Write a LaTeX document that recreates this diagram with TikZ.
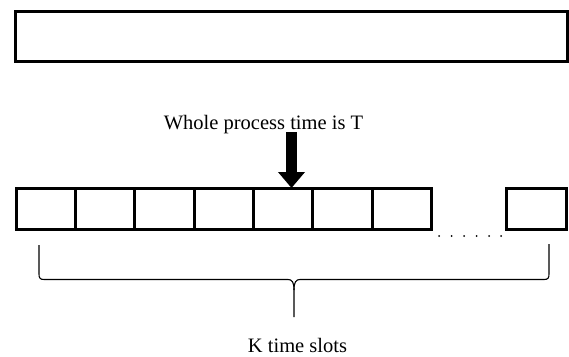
\documentclass[tikz,border=0pt]{standalone}
\usepackage{fontspec}
\setmainfont{Liberation Serif}
\usetikzlibrary{arrows.meta,calc}
\begin{document}
\begin{tikzpicture}[x=1pt,y=1pt,
  slotbox/.style={draw,line width=3pt,minimum width=59.3pt,minimum height=41pt,inner sep=0pt,outer sep=0pt},
  bigbox/.style={draw,line width=3pt,minimum width=552pt,minimum height=50pt,inner sep=0pt},
  lbl/.style={font=\fontsize{20.5}{24}\selectfont,inner sep=0pt,anchor=base},
  bracepath/.style={line width=1.1pt},
  dotmark/.style={fill,circle,inner sep=0pt,minimum size=2pt}]
\useasboundingbox (0,0) rectangle (569,-356);
\node[bigbox] (top) at (291,-36) {};
\foreach \i in {1,...,7}{
  \node[slotbox] (s\i) at ({16.3+59.3*(\i-0.5)},-208.5) {};
}
\node[slotbox] (sK) at (536.5,-208.5) {};
\foreach \x [count=\j] in {439,451.5,464,476.5,489,501}{
  \node[dotmark] (d\j) at (\x,-236) {};
}
\node[lbl] (title) at (263.5,-129.5) {Whole process time is T};
\coordinate (a) at (291.5,-132);
\draw[line width=11pt,-{Triangle[width=26pt,length=16pt]}] (a) -- (a |- s5.north);
\coordinate (bl) at (39,-245);
\coordinate (br) at (549,-244);
\coordinate (bm) at (294,-279.5);
\coordinate (bt) at (294,-317);
\draw[bracepath] (bl) -- (39,-274) .. controls (39,-278) and (40,-279.5) .. (44,-279.5)
  -- (288,-279.5) .. controls (292,-279.5) and (294,-282) .. (294,-290) -- (bt);
\draw[bracepath] (br) -- (549,-274) .. controls (549,-278) and (548,-279.5) .. (544,-279.5)
  -- (300,-279.5) .. controls (296,-279.5) and (294,-282) .. (294,-290);
\node[lbl] (klabel) at (297.5,-352) {K time slots};
\end{tikzpicture}
\end{document}
